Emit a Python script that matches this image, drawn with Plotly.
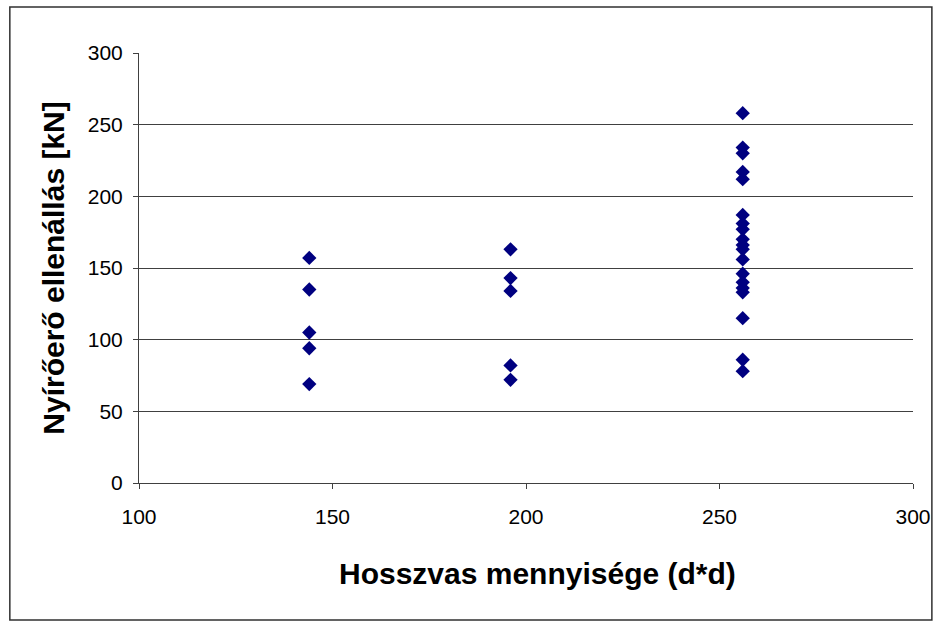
import plotly.graph_objects as go

# Longitudinal reinforcement amount (d*d) and measured shear resistance [kN]
x_144 = [144, 144, 144, 144, 144]
y_144 = [157, 135, 105, 94, 69]

x_196 = [196, 196, 196, 196, 196]
y_196 = [163, 143, 134, 82, 72]

x_256 = [256] * 19
y_256 = [258, 234, 230, 217, 212, 187, 181, 177, 170, 166, 163, 156,
         146, 140, 136, 133, 115, 86, 78]

xs = x_144 + x_196 + x_256
ys = y_144 + y_196 + y_256

x_ticks = [100, 150, 200, 250, 300]
y_ticks = [0, 50, 100, 150, 200, 250, 300]

font = "Liberation Sans, Arial, sans-serif"

fig = go.Figure(go.Scatter(
    x=xs, y=ys, mode="markers",
    marker=dict(symbol="diamond", size=11, color="#000080",
                line=dict(width=0)),
    showlegend=False,
))

fig.update_layout(
    width=943, height=624,
    margin=dict(l=139, r=25, t=53, b=141),
    paper_bgcolor="white", plot_bgcolor="white",
    font=dict(family=font, size=21, color="black"),
    xaxis=dict(
        range=[100, 300], tickvals=x_ticks, showgrid=False,
        showline=True, linecolor="#404040", linewidth=1,
        ticks="outside", ticklen=5, tickcolor="#404040",
        ticklabelstandoff=10,
        zeroline=False,
    ),
    yaxis=dict(
        range=[0, 300], tickvals=y_ticks, showgrid=True,
        gridcolor="#404040", gridwidth=1,
        showline=True, linecolor="#404040", linewidth=1,
        ticks="outside", ticklen=5, tickcolor="#404040",
        ticklabelstandoff=6,
        zeroline=False,
        title=dict(text="<b>Nyírőerő ellenállás [kN]</b>",
                   font=dict(size=30), standoff=14),
    ),
    annotations=[dict(
        text="<b>Hosszvas mennyisége (d*d)</b>",
        xref="paper", yref="paper",
        x=(540 - 139) / 779, y=(483 - 573) / 430,
        xanchor="center", yanchor="middle",
        showarrow=False, font=dict(size=30),
    )],
    shapes=[dict(
        type="rect", xref="paper", yref="paper",
        x0=(9 - 139) / 779, x1=(937 - 139) / 779,
        y0=(483 - 620) / 430, y1=(483 - 7) / 430,
        line=dict(color="#303030", width=1.5), fillcolor="rgba(0,0,0,0)",
        layer="below",
    )],
)

fig.write_html("out.html")
